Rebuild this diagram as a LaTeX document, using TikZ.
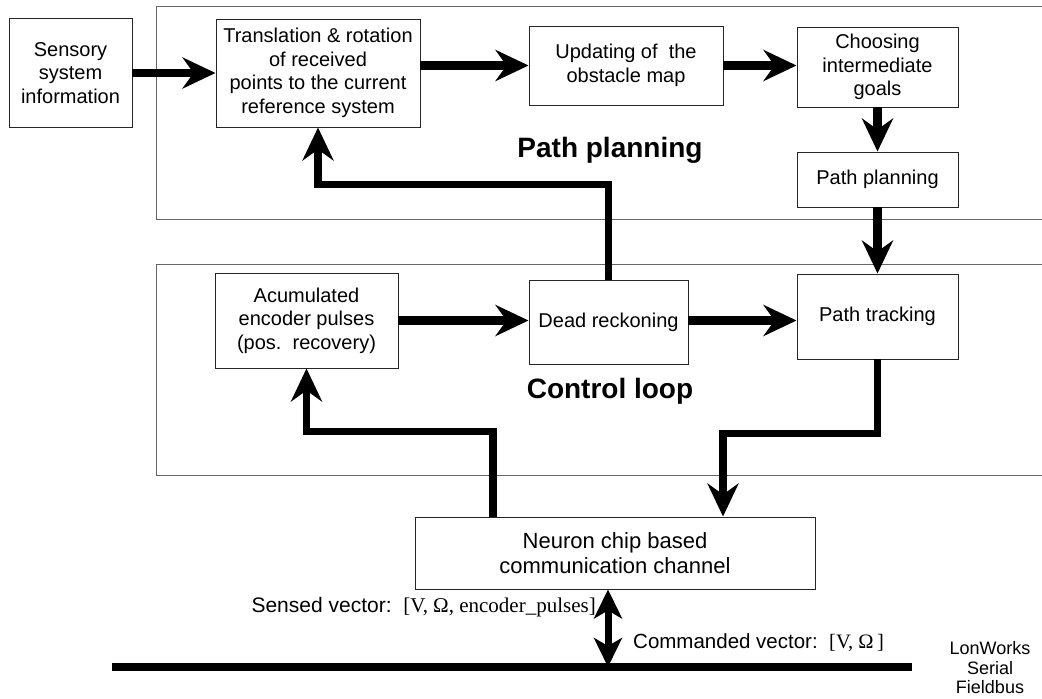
\documentclass[tikz,border=0pt]{standalone}
\usepackage{fontspec}
\setmainfont{Liberation Sans}
\newfontfamily\vecfont{Liberation Serif}
\usetikzlibrary{arrows.meta}
\begin{document}
\begin{tikzpicture}[x=1pt,y=-1pt,
  box/.style={draw=black!85, line width=0.9pt, inner sep=0pt, align=center,
    font=\fontsize{20}{23.5}\selectfont},
  region/.style={draw=black!60, line width=1pt},
  head/.style={-{Stealth[length=33pt,width=31pt,inset=11pt]}},
  flow/.style={line width=8.5pt, head},
  duplex/.style={line width=7pt, {Stealth[length=29pt,width=28pt,inset=8pt]}-{Stealth[length=29pt,width=28pt,inset=8pt]}},
  title/.style={font=\bfseries\fontsize{28}{32}\selectfont, inner sep=0pt},
  lbl/.style={font=\fontsize{20.5}{23}\selectfont, inner sep=0pt}
]
\useasboundingbox (0,0) rectangle (1042,699);
\fill[white] (0,0) rectangle (1042,699);

% group frames (open to the right)
\draw[region] (1042,6) -- (156,6) -- (156,219) -- (1042,219);
\draw[region] (1042,264) -- (156,264) -- (156,475) -- (1042,475);

% titles of the two groups
\node[title] (pptitle) at (610,150) {Path planning};
\node[title] (cltitle) at (610,391) {Control loop};

% processing blocks
\node[box, minimum width=123pt, minimum height=109pt] (sens) at (70.5,73)
  {Sensory\\system\\information};
\node[box, minimum width=204pt, minimum height=108pt] (trans) at (318,73)
  {Translation \& rotation\\of received\\points to the current\\reference system};
\node[box, minimum width=194pt, minimum height=79pt] (upd) at (626,65.5)
  {Updating of\ \ the\\obstacle map};
\node[box, minimum width=161pt, minimum height=80pt] (choose) at (877.5,67)
  {Choosing\\intermediate\\goals};
\node[box, minimum width=161pt, minimum height=55pt] (plan) at (877.5,179.5)
  {Path planning};
\node[box, minimum width=183pt, minimum height=95pt] (acc) at (306.5,320.5)
  {Acumulated\\encoder pulses\\(pos.\ \ recovery)};
\node[box, minimum width=159pt, minimum height=84pt] (dead) at (608.5,322)
  {Dead reckoning};
\node[box, minimum width=161pt, minimum height=85pt] (track) at (877.5,316.5)
  {Path tracking};
\node[box, minimum width=400pt, minimum height=72pt, font=\fontsize{22}{25}\selectfont] (neuron) at (615,553)
  {Neuron chip based\\communication channel};

% fieldbus
\coordinate (busL) at (112,667);
\coordinate (busR) at (912,667);
\draw[line width=8pt] (busL) -- (busR);

% data flow
\draw[flow] (sens) -- (trans);
\draw[flow] (trans.east |- upd.west) -- (upd.west);
\draw[flow] (upd.east) -- (upd.east -| choose.west);
\draw[flow] (choose) -- (plan);
\draw[flow] (plan) -- (track);
\draw[flow] (acc.east) -- (acc.east -| dead.west);
\draw[flow] (acc.east -| dead.east) -- (acc.east -| track.west);
\draw[flow, line width=7.5pt] (dead.north) -- ++(0,-95) -| (trans.south);
\draw[flow, line width=7.5pt] ([xshift=-122pt]neuron.north) -- ++(0,-85) -| (acc.south);
\draw[flow, line width=7.5pt] (track.south) -- ++(0,74) -| ([xshift=108pt]neuron.north);
\draw[duplex] ([xshift=-7pt]neuron.south) -- ([xshift=-7pt]neuron.south |- busL);

% labels
\node[lbl, anchor=east, font=\fontsize{21}{23}\selectfont] (sensed) at (596,607)
  {Sensed vector:\ \ {\vecfont [V, Ω, encoder\_pulses]}};
\node[lbl, anchor=west] (cmd) at (633,643)
  {Commanded vector:\ \ {\vecfont [V, Ω\,]}};
\node[lbl, align=center, font=\fontsize{18}{19.5}\selectfont, text depth=0pt, anchor=south] (lon) at (990,694)
  {LonWorks\\Serial\\Fieldbus};
\end{tikzpicture}
\end{document}
